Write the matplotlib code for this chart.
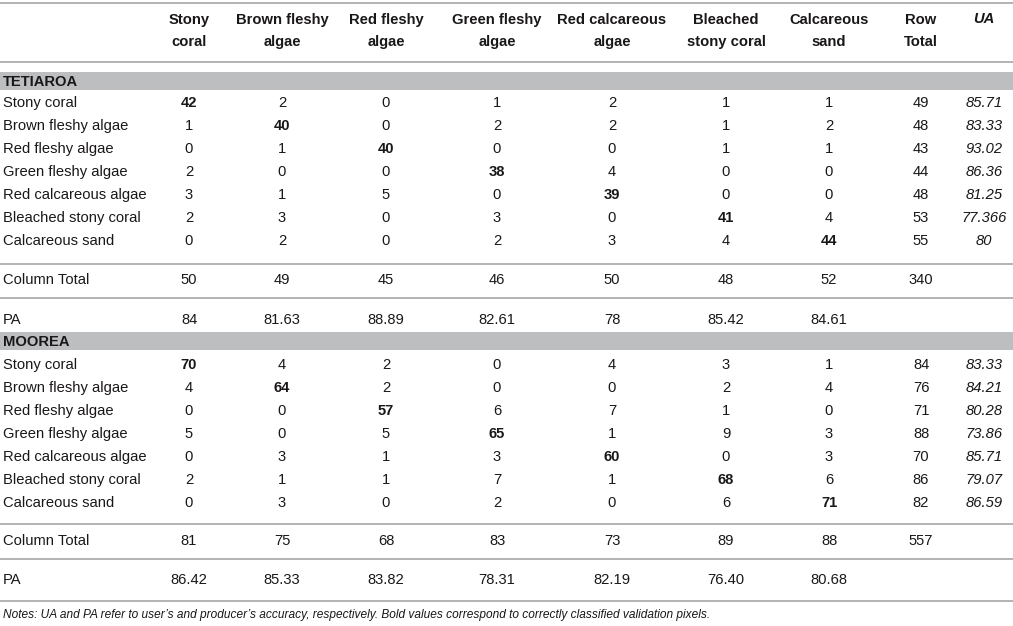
import matplotlib.pyplot as plt

# Datos de la tabla (matriz de confusion)
clases = ["Stony coral", "Brown fleshy algae", "Red fleshy algae", "Green fleshy algae",
          "Red calcareous algae", "Bleached stony coral", "Calcareous sand"]
encabezados = ["Stony\ncoral", "Brown fleshy\nalgae", "Red fleshy\nalgae", "Green fleshy\nalgae",
               "Red calcareous\nalgae", "Bleached\nstony coral", "Calcareous\nsand", "Row\nTotal"]

tet_matriz = [[42, 2, 0, 1, 2, 1, 1],
              [1, 40, 0, 2, 2, 1, 2],
              [0, 1, 40, 0, 0, 1, 1],
              [2, 0, 0, 38, 4, 0, 0],
              [3, 1, 5, 0, 39, 0, 0],
              [2, 3, 0, 3, 0, 41, 4],
              [0, 2, 0, 2, 3, 4, 44]]
tet_row_total = [49, 48, 43, 44, 48, 53, 55]
tet_ua = ["85.71", "83.33", "93.02", "86.36", "81.25", "77.366", "80"]
tet_col_total = [50, 49, 45, 46, 50, 48, 52, 340]
tet_pa = ["84", "81.63", "88.89", "82.61", "78", "85.42", "84.61"]

moo_matriz = [[70, 4, 2, 0, 4, 3, 1],
              [4, 64, 2, 0, 0, 2, 4],
              [0, 0, 57, 6, 7, 1, 0],
              [5, 0, 5, 65, 1, 9, 3],
              [0, 3, 1, 3, 60, 0, 3],
              [2, 1, 1, 7, 1, 68, 6],
              [0, 3, 0, 2, 0, 6, 71]]
moo_row_total = [84, 76, 71, 88, 70, 86, 82]
moo_ua = ["83.33", "84.21", "80.28", "73.86", "85.71", "79.07", "86.59"]
moo_col_total = [81, 75, 68, 83, 73, 89, 88, 557]
moo_pa = ["86.42", "85.33", "83.82", "78.31", "82.19", "76.40", "80.68"]

nota = ("Notes: UA and PA refer to user\u2019s and producer\u2019s accuracy, respectively. "
        "Bold values correspond to correctly classified validation pixels.")

plt.rcParams['font.family'] = ['Liberation Sans', 'DejaVu Sans']
color_texto = '#1a1718'
color_linea = '#b3b3b3'
color_banda = '#bdbec0'

fig = plt.figure(figsize=(10.13, 6.26), dpi=100)
ax = fig.add_axes([0, 0, 1, 1])
ax.set_xlim(0, 1013)
ax.set_ylim(626, 0)
ax.axis('off')

x_cols = [189, 282, 386, 497, 612, 726, 829, 921]
x_ua = 984
x_lab = 3
fs = 10.6


def linea(y):
    ax.plot([0, 1013], [y, y], color=color_linea, lw=1.4, solid_capstyle='butt')


def banda(y0, y1, texto):
    ax.fill_between([0, 1013], y0, y1, color=color_banda, lw=0)
    ax.text(x_lab, (y0 + y1) / 2 + 0.5, texto, fontsize=fs, fontweight='bold',
            color=color_texto, va='center', ha='left')


# Encabezado
linea(3)
for x, h in zip(x_cols, encabezados):
    ax.text(x, 31, h, fontsize=fs, fontweight='bold', color=color_texto,
            ha='center', va='center', linespacing=1.65)
ax.text(x_ua, 19, "UA", fontsize=fs, fontweight='bold', style='italic',
        color=color_texto, ha='center', va='center')
linea(62)


def bloque(y_banda, nombre, matriz, row_total, ua, col_total, pa, y_filas, y_l1, y_ct, y_l2, y_pa):
    banda(y_banda[0], y_banda[1], nombre)
    for i, clase in enumerate(clases):
        y = y_filas + i * 23
        ax.text(x_lab, y, clase, fontsize=fs, color=color_texto, va='center', ha='left')
        for j, v in enumerate(matriz[i]):
            ax.text(x_cols[j], y, str(v), fontsize=fs, color=color_texto, va='center',
                    ha='center', fontweight='bold' if i == j else 'normal')
        ax.text(x_cols[7], y, str(row_total[i]), fontsize=fs, color=color_texto,
                va='center', ha='center')
        ax.text(x_ua, y, ua[i], fontsize=fs, color=color_texto, style='italic',
                va='center', ha='center')
    linea(y_l1)
    ax.text(x_lab, y_ct, "Column Total", fontsize=fs, color=color_texto, va='center', ha='left')
    for x, v in zip(x_cols, col_total):
        ax.text(x, y_ct, str(v), fontsize=fs, color=color_texto, va='center', ha='center')
    linea(y_l2)
    ax.text(x_lab, y_pa, "PA", fontsize=fs, color=color_texto, va='center', ha='left')
    for x, v in zip(x_cols, pa):
        ax.text(x, y_pa, v, fontsize=fs, color=color_texto, va='center', ha='center')


bloque((72, 90), "TETIAROA", tet_matriz, tet_row_total, tet_ua, tet_col_total, tet_pa,
       103, 264, 280, 298, 320)
bloque((332, 350), "MOOREA", moo_matriz, moo_row_total, moo_ua, moo_col_total, moo_pa,
       365, 524, 541, 559, 580)
linea(601)

ax.text(x_lab, 615, nota, fontsize=8.6, style='italic', color=color_texto,
        va='center', ha='left')

fig.savefig('out.png', dpi=100)
